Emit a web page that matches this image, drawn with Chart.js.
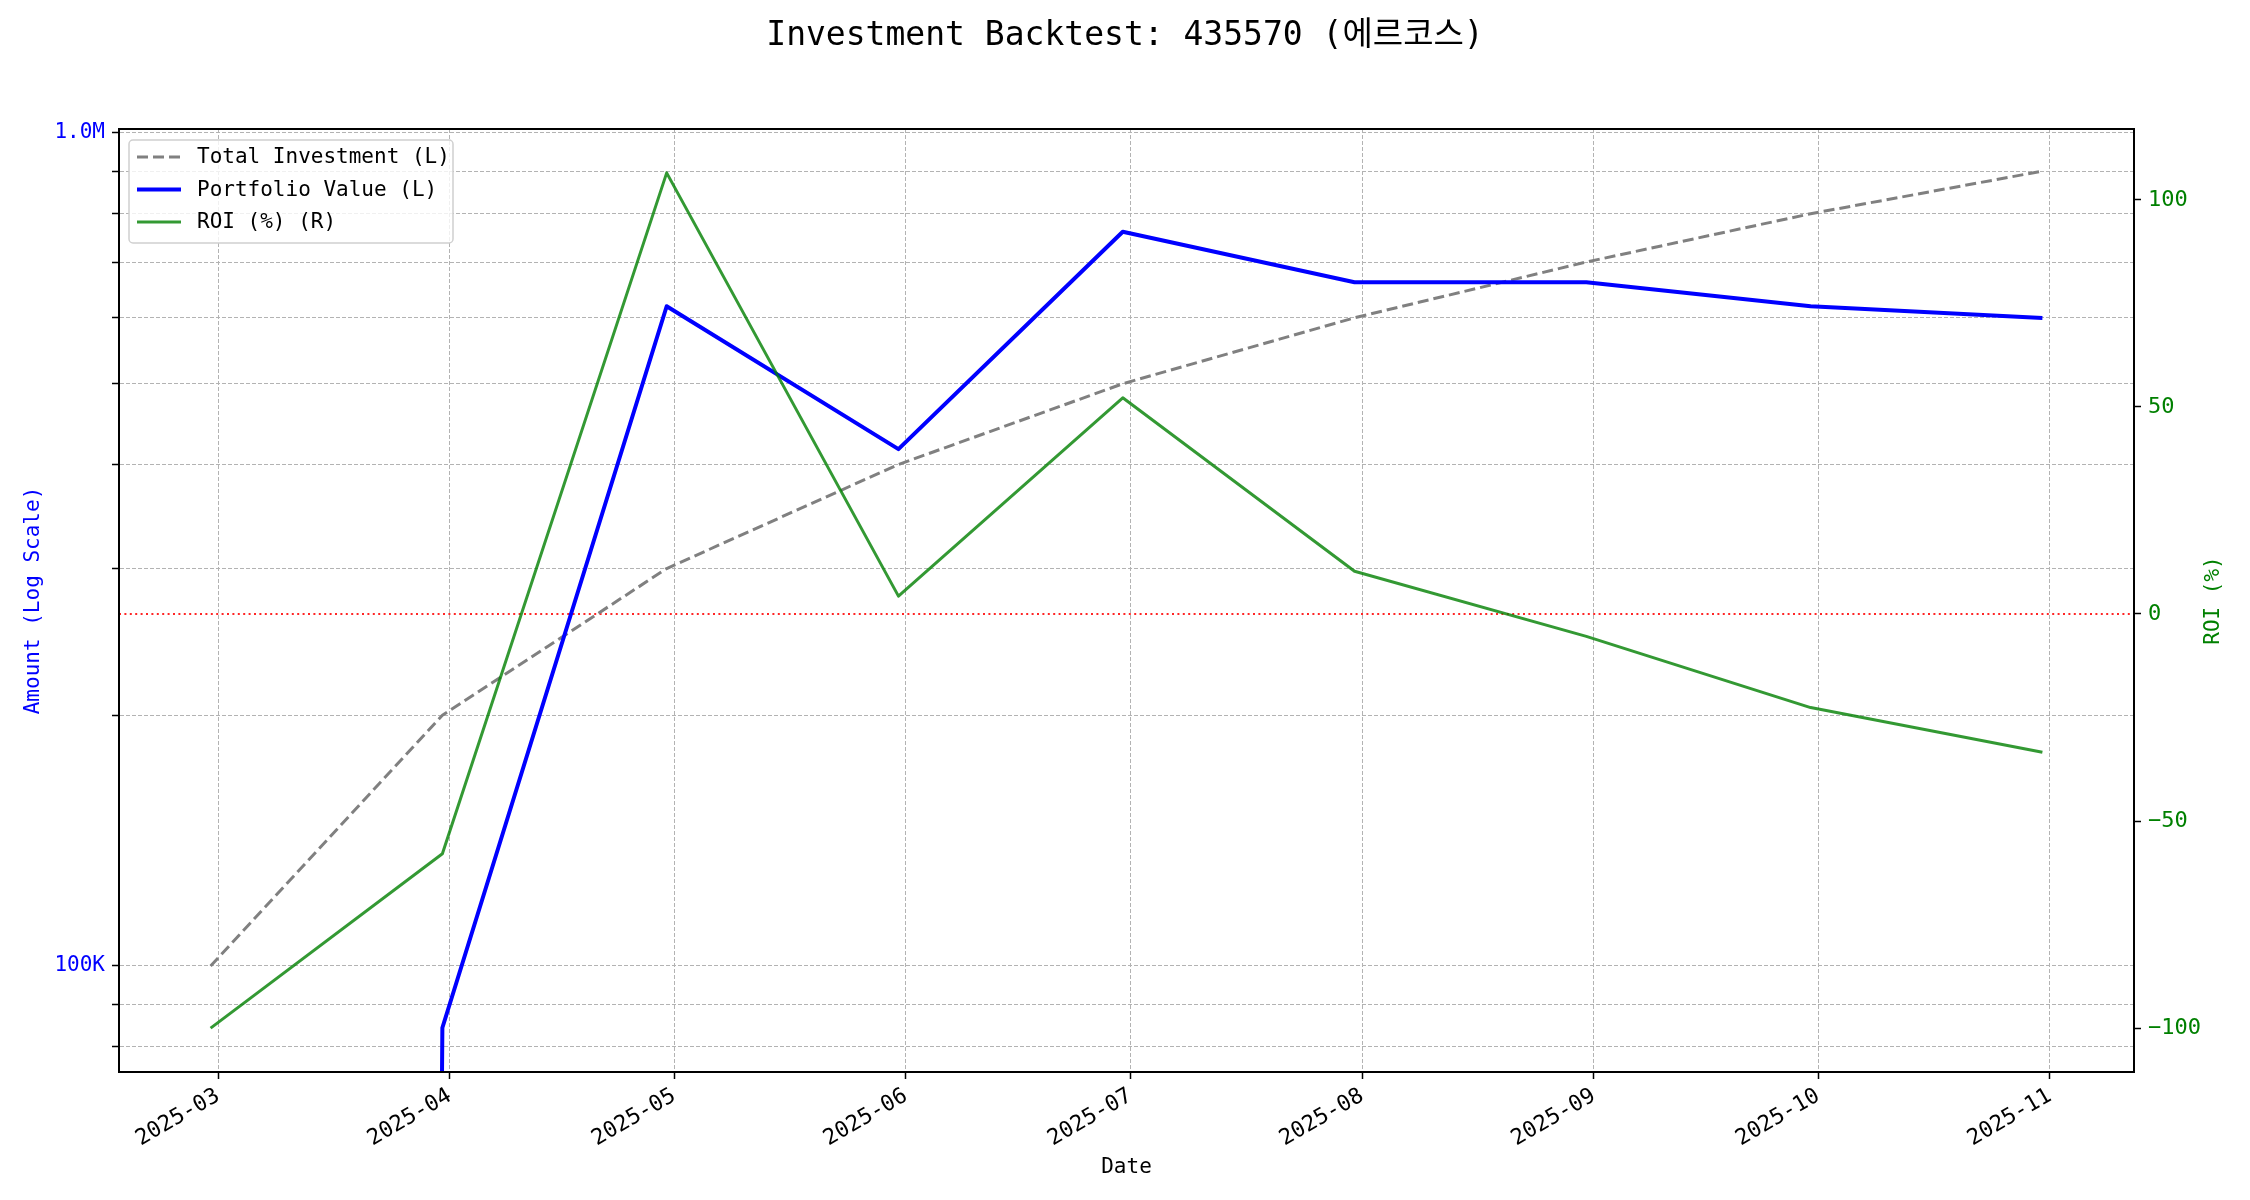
<!DOCTYPE html>
<html>
<head>
<meta charset="utf-8">
<script src="https://cdn.jsdelivr.net/npm/chart.js@4.4.0/dist/chart.umd.min.js"></script>
<style>
  html, body { margin: 0; padding: 0; background: #fff; }
</style>
</head>
<body>
<canvas id="myChart" width="2250" height="1200"></canvas>
<script>
// month-end snapshots
const dates = ['2025-02-28', '2025-03-31', '2025-04-30', '2025-05-31', '2025-06-30',
               '2025-07-31', '2025-08-31', '2025-09-30', '2025-10-31'];
const totalInvestment = [100000, 200000, 300000, 400000, 500000, 600000, 700000, 800000, 900000];
const portfolioValue = [0, 84300, 619500, 417300, 761000, 662000, 662000, 619500, 599500];
const roiPct = [-100, -57.9, 106.5, 4.3, 52.2, 10.3, -5.4, -22.6, -33.4];

const monthTicks = ['2025-03-01', '2025-04-01', '2025-05-01', '2025-06-01', '2025-07-01',
                    '2025-08-01', '2025-09-01', '2025-10-01', '2025-11-01'];
const amountTicks = [80000, 90000, 100000, 200000, 300000, 400000, 500000,
                     600000, 700000, 800000, 900000, 1000000];
const roiTicks = [-100, -50, 0, 50, 100];

const FONT = "'DejaVu Sans Mono', 'Noto Sans CJK KR', monospace";
Chart.defaults.font.family = FONT;
Chart.defaults.font.size = 21;
Chart.defaults.color = '#000';

const toDay = (s) => Date.UTC(+s.slice(0, 4), +s.slice(5, 7) - 1, +s.slice(8, 10)) / 86400000;
const fromDay = (d) => {
    const dt = new Date(Math.round(d) * 86400000);
    return dt.getUTCFullYear() + '-' + String(dt.getUTCMonth() + 1).padStart(2, '0');
};

const xs = dates.map(toDay);
const pts = (arr) => arr.map((v, i) => ({ x: xs[i], y: v }));
// log axis: like matplotlib, non-positive values are clipped far below the axis
const logPts = (arr) => arr.map((v, i) => ({ x: xs[i], y: v > 0 ? v : 1e-30 }));

const gridColor = '#b3b3b3';

const refLine = {
    id: 'refLine',
    beforeDatasetsDraw(chart) {
        const { ctx, chartArea } = chart;
        const y = chart.scales.y1.getPixelForValue(0);
        ctx.save();
        ctx.strokeStyle = 'rgba(255,0,0,0.85)';
        ctx.lineWidth = 2;
        ctx.setLineDash([2, 3.4]);
        ctx.beginPath();
        ctx.moveTo(chartArea.left, y);
        ctx.lineTo(chartArea.right, y);
        ctx.stroke();
        ctx.restore();
    }
};

const boxLegend = {
    id: 'boxLegend',
    afterDraw(chart) {
        const { ctx, chartArea } = chart;
        const x0 = chartArea.left + 10, y0 = chartArea.top + 11;
        const w = 324, h = 103;
        ctx.save();
        ctx.setLineDash([]);
        ctx.fillStyle = 'rgba(255,255,255,0.8)';
        ctx.strokeStyle = '#d0d0d0';
        ctx.lineWidth = 1.5;
        ctx.beginPath();
        ctx.roundRect(x0, y0, w, h, 4);
        ctx.fill();
        ctx.stroke();
        ctx.font = '21px ' + FONT;
        ctx.textBaseline = 'middle';
        chart.data.datasets.forEach((ds, i) => {
            const y = y0 + 17 + i * 32.5;
            ctx.strokeStyle = ds.borderColor;
            ctx.lineWidth = ds.borderWidth;
            ctx.setLineDash(ds.borderDash || []);
            ctx.beginPath();
            ctx.moveTo(x0 + 8, y);
            ctx.lineTo(x0 + 52, y);
            ctx.stroke();
            ctx.fillStyle = '#000';
            ctx.fillText(ds.label, x0 + 68, y + 1);
        });
        // top spine + frame
        ctx.setLineDash([]);
        ctx.strokeStyle = '#000';
        ctx.lineWidth = 2;
        ctx.strokeRect(chartArea.left, chartArea.top, chartArea.right - chartArea.left, chartArea.bottom - chartArea.top);
        // right axis label, reading bottom-to-top like the source
        ctx.fillStyle = '#008000';
        ctx.textAlign = 'center';
        ctx.translate(2214, (chartArea.top + chartArea.bottom) / 2);
        ctx.rotate(-Math.PI / 2);
        ctx.fillText(chart.options.scales.y1.title.text, 0, 0);
        ctx.restore();
    }
};

const data = {
    datasets: [{
        label: 'Total Investment (L)',
        data: pts(totalInvestment),
        borderColor: '#808080',
        borderWidth: 3,
        borderDash: [11, 5],
        yAxisID: 'y',
        order: 3
    }, {
        label: 'Portfolio Value (L)',
        data: logPts(portfolioValue),
        borderColor: '#0000ff',
        borderWidth: 4,
        yAxisID: 'y',
        order: 2
    }, {
        label: 'ROI (%) (R)',
        data: pts(roiPct),
        borderColor: 'rgba(0,128,0,0.8)',
        borderWidth: 3,
        yAxisID: 'y1',
        order: 1
    }]
};

const conf = {
    type: 'line',
    data,
    options: {
        responsive: false,
        animation: false,
        devicePixelRatio: 1,
        layout: { padding: 0 },
        elements: {
            point: { radius: 0 },
            line: { tension: 0, borderJoinStyle: 'round' }
        },
        plugins: {
            legend: { display: false },
            tooltip: { enabled: false },
            title: {
                display: true,
                text: 'Investment Backtest: 435570 (에르코스)',
                font: { size: 33, weight: 'normal' },
                color: '#000',
                padding: { top: 17, bottom: 72.4 }
            }
        },
        scales: {
            x: {
                type: 'linear',
                min: xs[0] - 12.25,
                max: xs[xs.length - 1] + 12.25,
                afterBuildTicks: (s) => { s.ticks = monthTicks.map((m) => ({ value: toDay(m) })); },
                afterFit: (s) => { s.height = 128; },
                ticks: {
                    callback: (v) => fromDay(v),
                    autoSkip: false,
                    minRotation: 30,
                    maxRotation: 30,
                    padding: 4,
                    font: { size: 22 },
                    color: '#000'
                },
                grid: { color: gridColor, lineWidth: 1, tickColor: '#000', tickLength: 7, tickWidth: 1.5 },
                border: { color: '#000', width: 2, dash: [4, 2] },
                title: { display: true, text: 'Date', font: { size: 21 }, color: '#000', padding: { bottom: 20 } }
            },
            y: {
                type: 'logarithmic',
                position: 'left',
                min: 74600,
                max: 1011100,
                afterBuildTicks: (s) => { s.ticks = amountTicks.map((v) => ({ value: v })); },
                afterFit: (s) => { s.width = 119; },
                ticks: {
                    callback: (v) => {
                        const lg = Math.log10(v);
                        if (Math.abs(lg - Math.round(lg)) > 1e-9) return '';
                        return v >= 1e6 ? (v / 1e6).toFixed(1) + 'M' : (v / 1e3).toFixed(0) + 'K';
                    },
                    autoSkip: false,
                    padding: 7,
                    font: { size: 21 },
                    color: '#0000ff'
                },
                grid: { color: gridColor, lineWidth: 1, tickColor: '#000', tickLength: 7, tickWidth: 1.5 },
                border: { color: '#000', width: 2, dash: [4, 2] },
                title: { display: true, text: 'Amount (Log Scale)', font: { size: 21 }, color: '#0000ff', padding: { top: 21 } }
            },
            y1: {
                type: 'linear',
                position: 'right',
                min: -110.6,
                max: 117.1,
                afterBuildTicks: (s) => { s.ticks = roiTicks.map((v) => ({ value: v })); },
                afterFit: (s) => { s.width = 116; },
                ticks: {
                    callback: (v) => (v < 0 ? '\u2212' + Math.abs(v) : String(v)),
                    padding: 7,
                    font: { size: 22 },
                    color: '#008000'
                },
                grid: { drawOnChartArea: false, tickColor: '#000', tickLength: 7, tickWidth: 1.5 },
                border: { color: '#000', width: 2 },
                title: { display: false, text: 'ROI (%)' }
            }
        }
    },
    plugins: [refLine, boxLegend]
};

const myChart = new Chart(document.getElementById('myChart'), conf);
</script>
</body>
</html>
